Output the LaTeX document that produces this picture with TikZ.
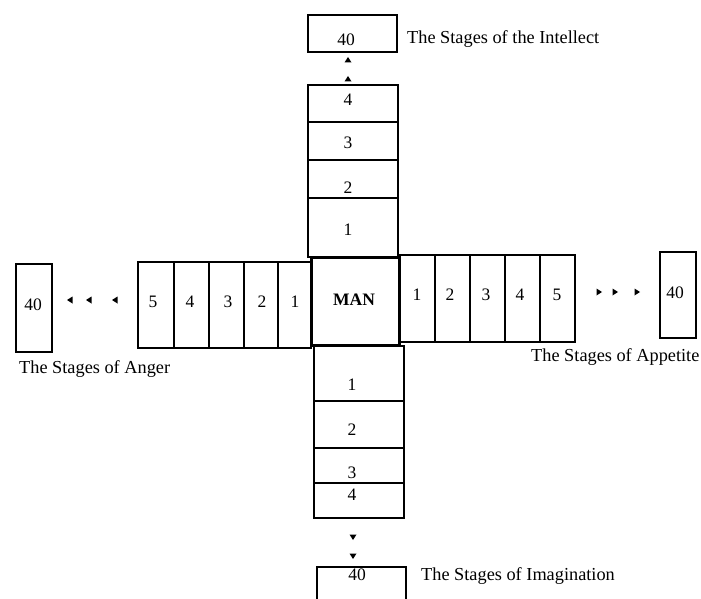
\documentclass[tikz,border=0pt]{standalone}
\usepackage{fontspec}
\setmainfont{Liberation Serif}
\begin{document}
\begin{tikzpicture}[x=1pt,y=-1pt,
  cell/.style={draw,line width=1.1pt,inner sep=0pt,minimum width=#1},
  num/.style={inner sep=0pt,font=\fontsize{17.5}{20}\selectfont},
  lab/.style={inner sep=0pt,anchor=base west,font=\fontsize{18.3}{20}\selectfont},
  tri/.style={fill=black}]
\clip (0,0) rectangle (701,599);
\fill[white] (0,0) rectangle (701,599);
% top column
\node[cell=90pt,minimum height=37pt] (t4) at (353,103.5) {};
\node[cell=90pt,minimum height=38pt] (t3) at (353,141) {};
\node[cell=90pt,minimum height=38pt] (t2) at (353,179) {};
\node[cell=90pt,minimum height=59pt] (t1) at (353,227.5) {};
\node[num] (nt4) at (348,100) {4};
\node[num] (nt3) at (348,143) {3};
\node[num] (nt2) at (348,188) {2};
\node[num] (nt1) at (348,230) {1};
% top 40
\node[cell=89pt,minimum height=37pt] (top40) at (352.5,33.5) {};
\node[num] (ntop40) at (346,40) {40};
\node[lab] (ltop) at (407,44) {The Stages of the Intellect};
\fill[tri] (344.5,62.5) -- (351.5,62.5) -- (348,57) -- cycle;
\fill[tri] (344.5,81.5) -- (351.5,81.5) -- (348,76) -- cycle;
% left arm
\node[cell=36pt,minimum height=86pt] (l5) at (156,305) {};
\node[cell=35pt,minimum height=86pt] (l4) at (191.5,305) {};
\node[cell=35pt,minimum height=86pt] (l3) at (226.5,305) {};
\node[cell=34pt,minimum height=86pt] (l2) at (261,305) {};
\node[cell=33pt,minimum height=86pt] (l1) at (294.5,305) {};
\node[num] (nl5) at (153,302) {5};
\node[num] (nl4) at (190,302) {4};
\node[num] (nl3) at (228,302) {3};
\node[num] (nl2) at (262,302) {2};
\node[num] (nl1) at (295,302) {1};
\node[cell=36pt,minimum height=88pt] (left40) at (34,308) {};
\node[num] (nleft40) at (33,305) {40};
\node[lab] (lleft) at (19,373) {The Stages of Anger};
\fill[tri] (72.5,296.5) -- (72.5,303.5) -- (67,300) -- cycle;
\fill[tri] (91.5,296.5) -- (91.5,303.5) -- (86,300) -- cycle;
\fill[tri] (117.5,296.5) -- (117.5,303.5) -- (112,300) -- cycle;
% right arm
\node[cell=35pt,minimum height=87pt] (r1) at (417.5,298.5) {};
\node[cell=35pt,minimum height=87pt] (r2) at (452.5,298.5) {};
\node[cell=35pt,minimum height=87pt] (r3) at (487.5,298.5) {};
\node[cell=35pt,minimum height=87pt] (r4) at (522.5,298.5) {};
\node[cell=35pt,minimum height=87pt] (r5) at (557.5,298.5) {};
\node[num] (nr1) at (417,295) {1};
\node[num] (nr2) at (450,295) {2};
\node[num] (nr3) at (486,295) {3};
\node[num] (nr4) at (520,295) {4};
\node[num] (nr5) at (557,295) {5};
\node[cell=36pt,minimum height=86pt] (right40) at (678,295) {};
\node[num] (nright40) at (675,293) {40};
\node[lab] (lright) at (531,361) {The Stages of Appetite};
\fill[tri] (596.5,288.5) -- (596.5,295.5) -- (602,292) -- cycle;
\fill[tri] (612.5,288.5) -- (612.5,295.5) -- (618,292) -- cycle;
\fill[tri] (634.5,288.5) -- (634.5,295.5) -- (640,292) -- cycle;
% bottom column
\node[cell=90pt,minimum height=55pt] (b1) at (359,373.5) {};
\node[cell=90pt,minimum height=47pt] (b2) at (359,424.5) {};
\node[cell=90pt,minimum height=35pt] (b3) at (359,465.5) {};
\node[cell=90pt,minimum height=35pt] (b4) at (359,500.5) {};
\node[num] (nb1) at (352,385) {1};
\node[num] (nb2) at (352,430) {2};
\node[num] (nb3) at (352,473) {3};
\node[num] (nb4) at (352,495) {4};
\fill[tri] (349.5,534.5) -- (356.5,534.5) -- (353,540) -- cycle;
\fill[tri] (349.5,553.5) -- (356.5,553.5) -- (353,559) -- cycle;
\node[cell=89pt,minimum height=43pt] (bot40) at (361.5,588.5) {};
\node[num] (nbot40) at (357,575) {40};
\node[lab] (lbot) at (421,580) {The Stages of Imagination};
% MAN
\node[draw,line width=2.8pt,inner sep=0pt,minimum width=88pt,minimum height=88pt,fill=white] (man) at (355.5,301.5) {};
\node[num,font=\fontsize{17.5}{20}\selectfont\bfseries] (nman) at (354,300) {MAN};
\end{tikzpicture}
\end{document}
